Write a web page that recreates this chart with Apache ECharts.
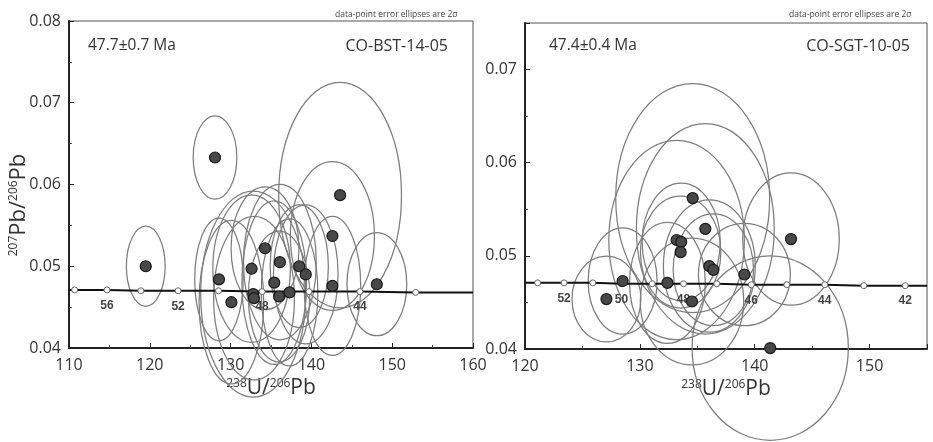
<!DOCTYPE html>
<html>
<head>
<meta charset="utf-8">
<script src="https://cdn.jsdelivr.net/npm/echarts@6/dist/echarts.min.js"></script>
<style>
  html, body { margin: 0; padding: 0; background: #fff; }
  #chart { width: 933px; height: 442px; }
</style>
</head>
<body>
<div id="chart"></div>
<script>
// CO-BST-14-05 (left panel): spot centres and 2 sigma half-widths
const bstX = [119.5, 128.07, 143.55, 142.6, 148.1, 142.6, 134.26, 136.1, 138.5, 139.3, 132.6, 128.56, 135.4, 137.3, 136.0, 132.8, 132.9, 130.1]
const bstY = [0.0500, 0.0633, 0.0587, 0.0537, 0.0478, 0.0476, 0.0522, 0.0505, 0.0500, 0.0490, 0.0497, 0.0484, 0.0480, 0.0468, 0.0463, 0.0466, 0.0461, 0.0456]
const bstErrX = [2.4, 2.7, 7.6, 5.2, 3.7, 3.5, 4.2, 4.5, 3.6, 4.0, 4.8, 3.0, 4.0, 3.5, 3.8, 6.5, 5.0, 4.0]
const bstErrY = [0.0049, 0.0051, 0.0138, 0.0091, 0.0063, 0.0085, 0.0075, 0.0095, 0.0075, 0.0085, 0.0090, 0.0075, 0.0100, 0.0090, 0.0080, 0.0126, 0.0100, 0.0100]

// CO-SGT-10-05 (right panel)
const sgtX = [127.09, 128.5, 132.4, 133.2, 133.6, 133.55, 134.6, 134.54, 135.7, 136.05, 136.4, 139.1, 143.16, 141.35]
const sgtY = [0.04536, 0.0473, 0.0471, 0.0517, 0.0515, 0.0504, 0.0562, 0.0451, 0.0529, 0.0489, 0.0485, 0.0480, 0.0518, 0.0401]
const sgtErrX = [3.0, 3.0, 3.3, 5.9, 3.4, 3.5, 6.7, 4.5, 6.0, 4.0, 3.5, 4.0, 4.2, 6.8]
const sgtErrY = [0.0046, 0.0057, 0.0065, 0.0107, 0.0063, 0.0060, 0.0123, 0.0068, 0.0113, 0.0071, 0.0060, 0.0055, 0.0071, 0.0099]

// concordia age marks (Ma)
const bstAges = [58, 56, 54, 52, 50, 48, 46, 44, 42]
const bstAgeX = [110.7, 114.7, 118.9, 123.5, 128.5, 133.9, 139.7, 146.0, 152.9]
const bstAgeY = [0.0471, 0.0471, 0.0470, 0.0470, 0.0470, 0.0469, 0.0469, 0.0469, 0.0468]
const bstAgeLabels = [56, 52, 48, 44]
const bstEndX = [110, 160]
const bstEndY = [0.0471, 0.0468]

const sgtAges = [53, 52, 51, 50, 49, 48, 47, 46, 45, 44, 43, 42]
const sgtAgeX = [121.1, 123.4, 125.9, 128.4, 131.07, 133.8, 136.7, 139.7, 142.8, 146.1, 149.5, 153.1]
const sgtAgeY = [0.0471, 0.0471, 0.0471, 0.0470, 0.0470, 0.0470, 0.0470, 0.0469, 0.0469, 0.0469, 0.0468, 0.0468]
const sgtAgeLabels = [52, 50, 48, 46, 44, 42]
const sgtEndX = [120, 155]
const sgtEndY = [0.0471, 0.0468]

const FONT = 'Open Sans'
const INK = '#333'
const SUP = { sup: { fontFamily: FONT, fontSize: 12, color: INK, verticalAlign: 'top' } }

const chart = echarts.init(document.getElementById('chart'))

function xAxisOf(idx, min, max, showMax) {
  return {
    type: 'value', gridIndex: idx, min: min, max: max, interval: 10,
    axisLine: { lineStyle: { color: '#222', width: 2 } },
    axisTick: { inside: true, length: 5, lineStyle: { color: '#222' } },
    minorTick: { show: true, splitNumber: 2, length: 3, lineStyle: { color: '#444' } },
    splitLine: { show: false },
    axisLabel: { fontFamily: FONT, fontSize: 16, color: INK, margin: 9, showMaxLabel: showMax },
    name: '{sup|238}U/{sup|206}Pb',
    nameLocation: 'middle',
    nameGap: 30,
    nameTextStyle: { fontFamily: FONT, fontSize: 21, color: INK, rich: SUP }
  }
}

function yAxisOf(idx, max, showMax) {
  return {
    type: 'value', gridIndex: idx, min: 0.04, max: max, interval: 0.01,
    axisLine: { lineStyle: { color: '#222', width: 2 } },
    axisTick: { inside: true, length: 5, lineStyle: { color: '#222' } },
    minorTick: { show: true, splitNumber: 2, length: 3, lineStyle: { color: '#444' } },
    splitLine: { show: false },
    axisLabel: { fontFamily: FONT, fontSize: 16, color: INK, margin: 8, showMaxLabel: showMax, formatter: v => v.toFixed(2) }
  }
}

function ellipseSeries(idx, xs, ys, ex, ey) {
  return {
    type: 'custom', xAxisIndex: idx, yAxisIndex: idx, z: 2, clip: false,
    data: xs.map((x, i) => [x, ys[i], ex[i], ey[i]]),
    renderItem(params, api) {
      const c = api.coord([api.value(0), api.value(1)])
      const s = api.size([api.value(2), api.value(3)])
      return {
        type: 'ellipse',
        shape: { cx: c[0], cy: c[1], rx: s[0], ry: s[1] },
        style: { fill: 'none', stroke: '#7d7d7d', lineWidth: 1.25 }
      }
    }
  }
}

function concordiaSeries(idx, ages, ax, ay, ex, ey, labels) {
  const marks = ages.map((a, i) => [ax[i], ay[i], a])
  const line = [[ex[0], ey[0]]].concat(marks.map(m => [m[0], m[1]]), [[ex[1], ey[1]]])
  return [
    {
      type: 'line', xAxisIndex: idx, yAxisIndex: idx, z: 3, symbol: 'none',
      data: line, lineStyle: { color: '#111', width: 2 }
    },
    {
      type: 'scatter', xAxisIndex: idx, yAxisIndex: idx, z: 4,
      symbolSize: 6, data: marks,
      itemStyle: { color: '#fff', borderColor: '#666', borderWidth: 1, opacity: 1 },
      label: {
        show: true, position: 'bottom', distance: 6,
        fontFamily: 'Liberation Sans', fontWeight: 'bold', fontSize: 12, color: '#444',
        formatter: p => labels.includes(p.value[2]) ? String(p.value[2]) : ''
      }
    }
  ]
}

function pointSeries(idx, xs, ys) {
  return {
    type: 'scatter', xAxisIndex: idx, yAxisIndex: idx, z: 5,
    symbolSize: 11,
    data: xs.map((x, i) => [x, ys[i]]),
    itemStyle: { color: '#484848', borderColor: '#1a1a1a', borderWidth: 1.2, opacity: 1 }
  }
}

chart.setOption({
  animation: false,
  grid: [
    { left: 69, top: 21, width: 404, height: 327, show: true, borderColor: '#555', borderWidth: 1 },
    { left: 525, top: 23, width: 402, height: 326, show: true, borderColor: '#555', borderWidth: 1 }
  ],
  xAxis: [xAxisOf(0, 110, 160, true), xAxisOf(1, 120, 155, false)],
  yAxis: [yAxisOf(0, 0.08, true), yAxisOf(1, 0.075, false)],
  graphic: [
    {
      type: 'text', x: 19, y: 205, rotation: Math.PI / 2,
      style: { text: '{sup|207}Pb/{sup|206}Pb', rich: SUP, fontFamily: FONT, fontSize: 22, fill: INK, align: 'center', verticalAlign: 'middle' }
    },
    { type: 'text', x: 88, y: 46, style: { text: '47.7±0.7 Ma', fontFamily: FONT, fontSize: 15.5, fill: INK, verticalAlign: 'middle' } },
    { type: 'text', x: 448, y: 46, style: { text: 'CO-BST-14-05', fontFamily: FONT, fontSize: 16, fill: INK, align: 'right', verticalAlign: 'middle' } },
    { type: 'text', x: 335, y: 15, style: { text: 'data-point error ellipses are 2σ', fontFamily: FONT, fontSize: 8.5, fill: '#444', verticalAlign: 'middle' } },
    { type: 'text', x: 549, y: 46, style: { text: '47.4±0.4 Ma', fontFamily: FONT, fontSize: 15.5, fill: INK, verticalAlign: 'middle' } },
    { type: 'text', x: 910, y: 46, style: { text: 'CO-SGT-10-05', fontFamily: FONT, fontSize: 16, fill: INK, align: 'right', verticalAlign: 'middle' } },
    { type: 'text', x: 789, y: 15, style: { text: 'data-point error ellipses are 2σ', fontFamily: FONT, fontSize: 8.5, fill: '#444', verticalAlign: 'middle' } }
  ],
  series: [
    ellipseSeries(0, bstX, bstY, bstErrX, bstErrY),
    ...concordiaSeries(0, bstAges, bstAgeX, bstAgeY, bstEndX, bstEndY, bstAgeLabels),
    pointSeries(0, bstX, bstY),
    ellipseSeries(1, sgtX, sgtY, sgtErrX, sgtErrY),
    ...concordiaSeries(1, sgtAges, sgtAgeX, sgtAgeY, sgtEndX, sgtEndY, sgtAgeLabels),
    pointSeries(1, sgtX, sgtY)
  ]
})
</script>
</body>
</html>
